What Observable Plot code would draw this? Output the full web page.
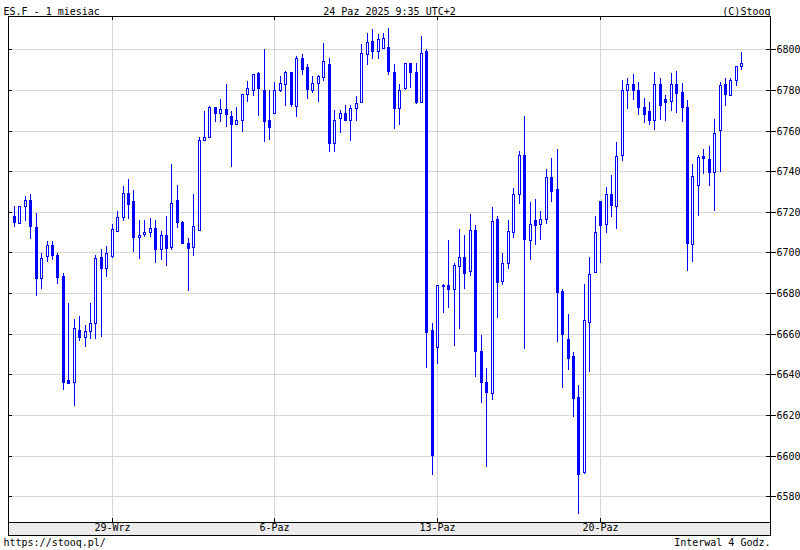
<!DOCTYPE html>
<html><head><meta charset="utf-8">
<script src="https://cdn.jsdelivr.net/npm/d3@7"></script>
<script src="https://cdn.jsdelivr.net/npm/@observablehq/plot@0.6"></script>
<style>body{margin:0;background:#fff}</style>
</head><body><div id="chart"></div>
<script>
const open = [
6718.2,6714.3,6722.8,6725.7,6712.5,6687.3,6698.3,6703.7,6698.9,6688.5,
6637.0,6636.5,6662.0,6658.4,6661.5,6665.4,6697.8,6692.2,6698.3,6710.8,
6717.5,6729.3,6725.3,6707.5,6709.0,6710.2,6712.1,6701.8,6708.7,6702.6,
6725.8,6715.2,6704.9,6702.6,6711.3,6755.2,6757.0,6771.6,6768.7,6770.6,
6767.2,6763.2,6765.2,6778.1,6780.1,6788.1,6780.2,6765.2,6768.8,6780.0,
6783.0,6789.0,6772.0,6795.7,6791.5,6780.2,6783.2,6786.5,6793.0,6754.0,
6766.0,6768.5,6765.0,6771.0,6774.2,6797.5,6804.0,6799.0,6800.5,6801.0,
6789.0,6771.3,6780.8,6793.1,6788.7,6773.9,6799.2,6661.7,6653.6,6684.2,
6683.8,6682.1,6693.4,6698.0,6691.1,6711.2,6651.4,6636.4,6630.9,6716.6,
6686.2,6695.0,6710.0,6728.8,6748.0,6706.3,6716.1,6714.1,6716.6,6737.0,
6731.0,6680.8,6657.2,6648.9,6628.9,6592.1,6665.7,6690.5,6725.2,6713.8,
6729.0,6723.1,6748.2,6780.0,6783.0,6780.0,6771.5,6769.4,6765.4,6783.0,
6775.7,6774.6,6782.7,6779.1,6771.6,6704.3,6733.1,6747.7,6746.2,6739.7,
6760.1,6783.1,6777.6,6785.0,6792.0];
const high = [
6722.9,6723.0,6727.8,6728.8,6719.5,6699.9,6705.6,6705.6,6699.9,6690.1,
6674.9,6667.1,6668.9,6664.1,6674.9,6698.6,6701.9,6703.3,6714.1,6720.5,
6732.7,6736.0,6730.7,6716.2,6716.2,6717.2,6716.2,6710.8,6718.1,6743.6,
6733.3,6715.7,6707.2,6728.9,6756.7,6769.8,6772.3,6771.6,6775.3,6782.8,
6769.8,6771.6,6778.1,6784.6,6787.6,6788.6,6800.2,6780.2,6783.7,6787.0,
6789.5,6789.0,6796.7,6797.7,6793.0,6787.0,6787.5,6803.2,6795.7,6770.0,
6770.0,6772.5,6772.5,6777.0,6802.7,6808.2,6810.0,6807.5,6808.0,6810.5,
6793.0,6782.9,6793.1,6793.1,6793.1,6806.6,6800.0,6665.5,6683.8,6684.7,
6706.0,6695.0,6711.8,6708.4,6718.7,6713.3,6659.4,6643.2,6722.6,6718.2,
6699.6,6716.2,6731.6,6750.0,6767.0,6724.6,6726.5,6720.3,6741.0,6746.7,
6751.1,6681.8,6669.5,6651.0,6634.8,6684.4,6697.7,6718.2,6725.2,6732.0,
6738.0,6754.6,6785.0,6786.0,6788.0,6784.0,6776.0,6774.0,6789.0,6786.0,
6777.7,6788.2,6789.2,6783.2,6775.1,6743.7,6748.2,6750.7,6752.2,6765.6,
6784.1,6786.0,6786.0,6792.0,6798.5];
const low = [
6712.3,6713.8,6715.6,6706.4,6678.5,6681.9,6695.3,6696.1,6684.5,6632.4,
6635.7,6624.6,6656.4,6653.5,6657.4,6657.4,6658.4,6687.8,6697.3,6709.9,
6715.3,6716.4,6700.4,6696.8,6707.5,6707.5,6694.8,6696.3,6693.3,6701.0,
6711.9,6704.6,6681.1,6698.2,6711.0,6755.2,6756.7,6764.0,6764.0,6762.0,
6742.1,6763.2,6759.2,6774.1,6777.1,6767.2,6754.5,6755.3,6768.5,6779.0,
6772.3,6771.5,6766.5,6787.5,6775.5,6778.5,6774.0,6784.5,6749.7,6749.7,
6759.0,6764.5,6755.0,6764.5,6773.5,6792.5,6795.0,6795.0,6800.0,6787.5,
6761.0,6762.9,6780.0,6781.1,6773.1,6773.9,6643.2,6590.6,6645.1,6670.4,
6672.8,6654.2,6662.5,6682.1,6688.5,6638.5,6625.8,6594.4,6627.6,6667.6,
6684.1,6691.9,6707.1,6723.8,6652.7,6696.3,6703.8,6706.1,6714.0,6724.9,
6656.1,6633.1,6642.3,6619.2,6571.1,6591.1,6641.3,6690.0,6694.9,6709.7,
6717.5,6711.6,6745.0,6770.8,6775.0,6767.5,6763.7,6762.6,6760.3,6765.4,
6764.6,6769.4,6768.6,6764.1,6690.9,6695.2,6717.8,6738.7,6732.7,6720.3,
6739.7,6772.1,6777.6,6782.0,6790.0];
const close = [
6714.8,6722.8,6725.7,6713.0,6687.3,6697.3,6703.7,6698.6,6687.8,6636.5,
6636.0,6662.6,6658.4,6661.5,6665.4,6697.3,6692.2,6699.9,6711.5,6717.5,
6729.3,6723.8,6707.5,6708.7,6710.2,6712.1,6701.7,6708.7,6702.1,6724.3,
6714.9,6704.6,6702.1,6713.2,6755.2,6757.0,6771.6,6768.7,6770.6,6768.2,
6763.2,6765.2,6778.1,6781.1,6787.6,6781.1,6764.5,6762.0,6780.2,6783.2,
6789.0,6773.0,6795.5,6790.5,6780.5,6783.5,6787.0,6794.0,6753.8,6765.0,
6768.5,6765.0,6771.0,6773.5,6798.0,6803.5,6799.0,6805.0,6805.5,6789.5,
6771.0,6780.2,6793.1,6788.7,6774.1,6798.0,6660.9,6600.2,6683.8,6683.6,
6682.1,6694.0,6698.0,6690.1,6711.2,6651.3,6636.1,6631.5,6715.6,6685.6,
6695.0,6710.7,6728.8,6748.0,6706.6,6714.1,6713.6,6716.6,6737.0,6730.3,
6680.7,6659.7,6648.2,6628.2,6591.1,6667.0,6689.2,6710.3,6713.6,6729.0,
6723.4,6747.7,6780.0,6783.0,6780.0,6771.5,6768.4,6765.4,6783.0,6772.8,
6773.9,6782.7,6778.6,6771.6,6704.7,6737.7,6747.2,6746.5,6739.7,6758.6,
6782.6,6778.1,6785.0,6792.0,6793.5];

const xTickIndex = [18, 48, 78, 108];
const xTickLabels = ["29-Wrz", "6-Paz", "13-Paz", "20-Paz"];
const yTicks = [6580, 6600, 6620, 6640, 6660, 6680, 6700, 6720, 6740, 6760, 6780, 6800];
const titleLeft = "ES.F - 1 miesiac";
const titleCenter = "24 Paz 2025 9:35 UTC+2";
const titleRight = "(C)Stooq";
const footLeft = "https://stooq.pl/";
const footRight = "Interwal 4 Godz.";

const BLUE = "#0000ff";
const GRID = "#d6d6d6";
const FONT = "DejaVu Sans Mono";

const candles = open.map((o, i) => ({
  i, open: o, high: high[i], low: low[i], close: close[i],
  top: Math.max(o, close[i]), bot: Math.min(o, close[i]), up: close[i] > o
}));
const xTicks = xTickIndex.map((t, k) => ({t, label: xTickLabels[k]}));

function decor(index, scales, values, dims) {
  const {width, height, marginLeft, marginRight, marginTop, marginBottom} = dims;
  const g = d3.create("svg:g");
  const x0 = marginLeft, x1 = width - marginRight, yb = height - marginBottom;
  g.append("rect").attr("x", x0 + 0.5).attr("y", yb + 0.5)
    .attr("width", x1 - x0).attr("height", 13)
    .attr("fill", "#ececec").attr("stroke", "black");
  for (const t of xTickIndex) {
    const px = scales.x(t) + 0.5;
    g.append("line").attr("x1", px).attr("x2", px).attr("y1", marginTop).attr("y2", marginTop + 4).attr("stroke", "black");
    g.append("line").attr("x1", px).attr("x2", px).attr("y1", yb - 4).attr("y2", yb).attr("stroke", "black");
  }
  for (const v of yTicks) {
    const py = Math.round(scales.y(v)) + 0.5;
    g.append("line").attr("x1", x0).attr("x2", x0 + 4).attr("y1", py).attr("y2", py).attr("stroke", "black");
    g.append("line").attr("x1", x1 - 4).attr("x2", x1).attr("y1", py).attr("y2", py).attr("stroke", "black");
  }
  return g.node();
}

const chart = Plot.plot({
  width: 800,
  height: 550,
  marginTop: 16,
  marginBottom: 28,
  marginLeft: 8,
  marginRight: 30,
  style: {fontFamily: FONT, fontSize: "10px", background: "white", color: "black", overflow: "visible"},
  x: {type: "linear", domain: [-1.1, 139.3], round: true, axis: null},
  y: {domain: [6567.35, 6816.39], round: true, axis: null},
  marks: [
    Plot.gridY(yTicks, {stroke: GRID, strokeOpacity: 1}),
    Plot.gridX(xTickIndex, {stroke: GRID, strokeOpacity: 1}),
    Plot.ruleX(candles, {x: "i", y1: "low", y2: "high", stroke: BLUE, strokeWidth: 1}),
    Plot.rect(candles, {x1: "i", x2: "i", y1: "bot", y2: "top", fill: BLUE,
      insetLeft: -1, insetRight: -2, insetBottom: -1}),
    Plot.rect(candles.filter(d => d.up), {x1: "i", x2: "i", y1: "bot", y2: "top", fill: "white",
      insetLeft: 0, insetRight: -1, insetTop: 1, insetBottom: 0}),
    Plot.frame({stroke: "black"}),
    decor,
    Plot.axisY(yTicks, {anchor: "right", tickSize: 5, tickPadding: 1, label: null,
      tickFormat: d => String(d), fontSize: 10, fill: "black", stroke: "black", textStroke: null}),
    Plot.text(xTicks, {x: "t", text: "label", frameAnchor: "bottom", dy: 8, fill: "black", fontSize: 10}),
    Plot.text([titleLeft], {text: d => d, frameAnchor: "top-left", dx: -5, dy: -9, textAnchor: "start", fill: "black", fontSize: 10}),
    Plot.text([titleCenter], {text: d => d, frameAnchor: "top", dy: -9, fill: "black", fontSize: 10}),
    Plot.text([titleRight], {text: d => d, frameAnchor: "top-right", dy: -9, textAnchor: "end", fill: "black", fontSize: 10}),
    Plot.text([footLeft], {text: d => d, frameAnchor: "bottom-left", dx: -5, dy: 23, textAnchor: "start", fill: "black", fontSize: 10}),
    Plot.text([footRight], {text: d => d, frameAnchor: "bottom-right", dy: 23, textAnchor: "end", fill: "black", fontSize: 10})
  ]
});
document.getElementById("chart").append(chart);
</script>
</body></html>
